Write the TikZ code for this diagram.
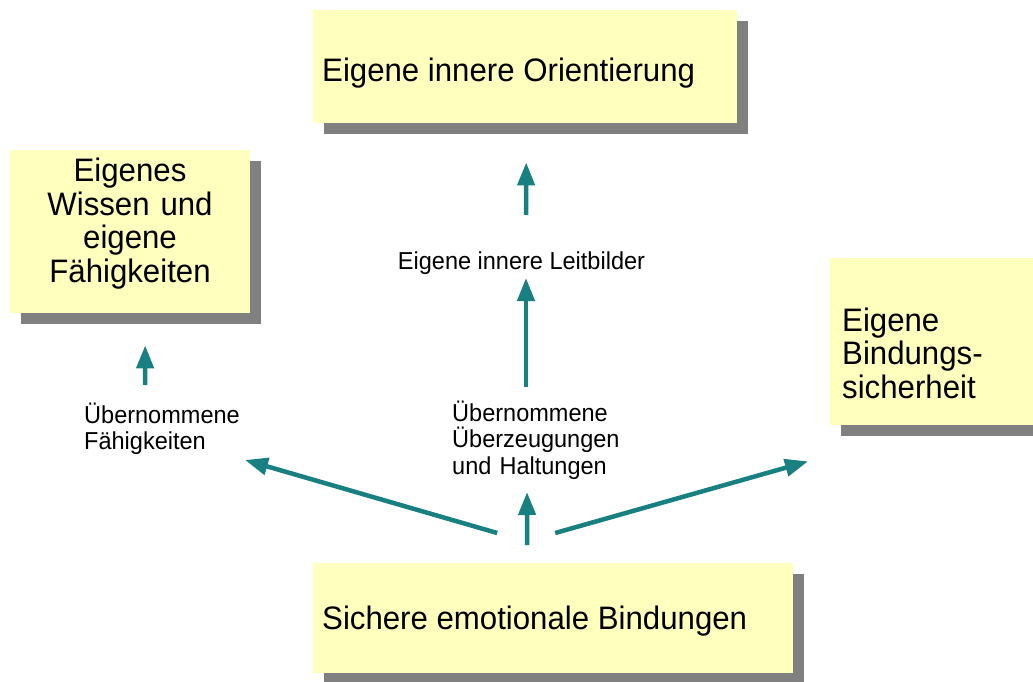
\documentclass[tikz,border=0pt]{standalone}
\usepackage{fontspec}
\setmainfont[FakeStretch=0.96]{Liberation Sans}
\usetikzlibrary{arrows.meta,calc,shadows}
\definecolor{notefill}{RGB}{255,255,190}
\definecolor{noteshadow}{RGB}{128,128,128}
\definecolor{arrowteal}{RGB}{24,128,128}
\begin{document}
\begin{tikzpicture}[x=1pt,y=1pt,
  note/.style={fill=notefill, draw=none, inner sep=0pt, anchor=north west,
    drop shadow={shadow xshift=11pt, shadow yshift=-11pt, fill=noteshadow, opacity=1}},
  bigtext/.style={font=\fontsize{32.5}{33.7}\selectfont, inner sep=0pt},
  smalltext/.style={font=\fontsize{24.5}{26.5}\selectfont, inner sep=0pt},
  arr/.style={draw=arrowteal, line width=4.5pt, -{Triangle[length=23pt,width=17pt]}}
]
\useasboundingbox (0,0) rectangle (1033,-682);

% yellow note boxes
\node[note, minimum width=424pt, minimum height=113pt] (orient) at (313,-10) {};
\node[note, minimum width=240pt, minimum height=163pt] (wissen) at (10,-150) {};
\node[note, minimum width=215pt, minimum height=167pt] (sicher) at (830,-258) {};
\node[note, minimum width=480pt, minimum height=110pt] (bind) at (313,-563) {};

% box texts
\node[bigtext, anchor=base west] (orientText) at (322,-81.5) {Eigene innere Orientierung};
\node[bigtext, anchor=base, align=center, text width=230pt] (wissenText) at (130,-181.5) {Eigenes\\Wissen und\\eigene\\Fähigkeiten};
\node[bigtext, anchor=base west, align=left, text width=185pt] (sicherText) at (842,-331) {Eigene\\Bindungs-\\sicherheit};
\node[bigtext, anchor=base west] (bindText) at (322,-629.5) {Sichere emotionale Bindungen};

% intermediate labels
\node[smalltext, anchor=base] (leit) at (521.5,-269) {Eigene innere Leitbilder};
\node[smalltext, anchor=base west, align=left, text width=170pt] (uebF) at (84,-423) {Übernommene\\Fähigkeiten};
\node[smalltext, anchor=base west, align=left, text width=170pt] (uebU) at (452,-421) {Übernommene\\Überzeugungen\\und Haltungen};

% connectors
\draw[arr] ($(uebF.base west)+(61,38)$) -- ($(wissen.south)+(15,-32)$);
\draw[arr] ($(leit.base)+(4.5,54)$) -- ($(orient.south)+(1,-39)$);
\draw[arr] ($(uebU.base west)+(74,34)$) -- ($(leit.base)+(4.5,-9)$);
\draw[arr] ($(bind.north)+(-26,18)$) -- ($(uebU.base west)+(75,-71)$);
\draw[arr] ($(bind.north)+(-56,30)$) -- ($(uebF.base west)+(161,-37)$);
\draw[arr] ($(bind.north)+(2,30)$) -- ($(sicher.south west)+(-22,-36)$);
\end{tikzpicture}
\end{document}
